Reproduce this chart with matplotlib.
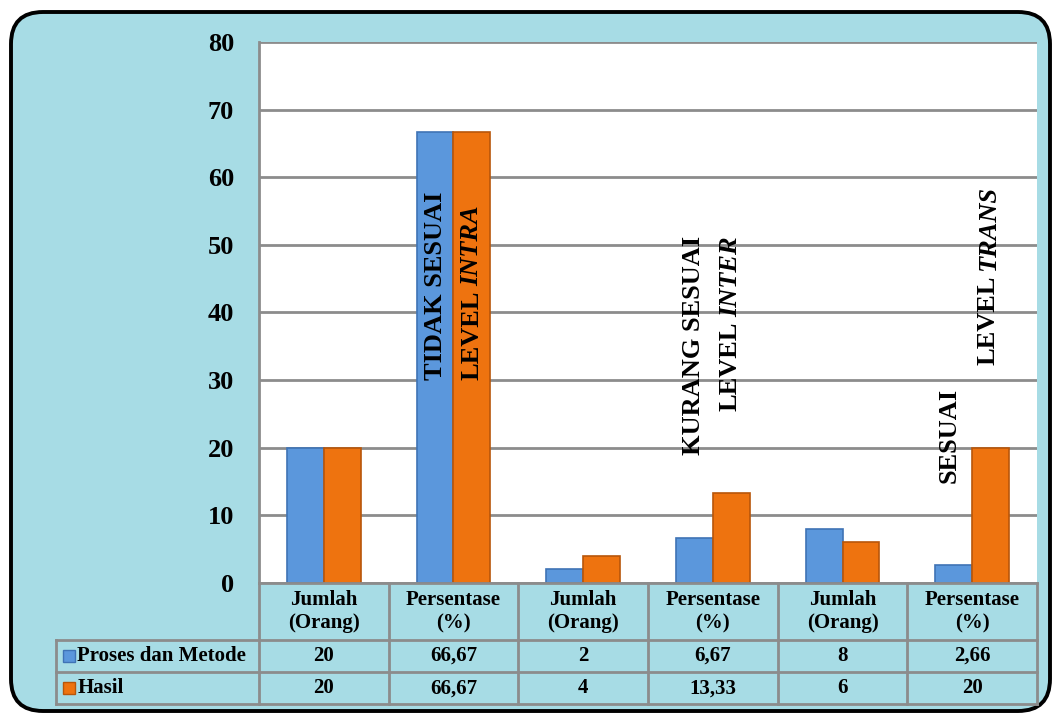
import numpy as np
import matplotlib.pyplot as plt
import matplotlib.transforms as mtransforms
from matplotlib.patches import FancyBboxPatch

# data
categories = ['Jumlah\n(Orang)', 'Persentase\n(%)', 'Jumlah\n(Orang)',
              'Persentase\n(%)', 'Jumlah\n(Orang)', 'Persentase\n(%)']
proses = [20, 66.67, 2, 6.67, 8, 2.66]
hasil = [20, 66.67, 4, 13.33, 6, 20]
proses_txt = ['20', '66,67', '2', '6,67', '8', '2,66']
hasil_txt = ['20', '66,67', '4', '13,33', '6', '20']
series_names = ['Proses dan Metode', 'Hasil']

plt.rcParams['font.family'] = ['Liberation Serif', 'DejaVu Serif']
plt.rcParams['font.weight'] = 'bold'

blue = '#5b97dc'
blue_edge = '#3f73b5'
orange = '#ee730f'
orange_edge = '#b8560a'
grid_c = '#8c8c8c'
bg = '#a7dce5'

fig = plt.figure(figsize=(10.54, 7.14), dpi=100, facecolor='white')

# rounded frame with water-like background colour
frame = FancyBboxPatch((0.11, 0.03), 10.39, 6.99,
                       boxstyle='round,pad=0,rounding_size=0.32',
                       transform=fig.dpi_scale_trans, facecolor=bg,
                       edgecolor='black', linewidth=2.8, zorder=-10)
fig.patches.append(frame)

ax = fig.add_axes([0.2457, 0.1835, 0.7382, 0.7577])
ax.set_facecolor('white')

x = np.arange(len(categories))
w = 0.285
ax.bar(x - w / 2, proses, w, color=blue, edgecolor=blue_edge, linewidth=1.2, zorder=3)
ax.bar(x + w / 2, hasil, w, color=orange, edgecolor=orange_edge, linewidth=1.2, zorder=3)

ax.set_xlim(-0.5, 5.5)
ax.set_ylim(0, 80)
ax.set_yticks(range(0, 81, 10))
ax.set_yticklabels([str(v) for v in range(0, 81, 10)], fontsize=19, fontweight='bold')
ax.tick_params(axis='y', length=0, pad=18)
ax.set_xticks([])
ax.yaxis.grid(True, color=grid_c, linewidth=2, zorder=1)
ax.set_axisbelow(True)
for s in ['top', 'right', 'bottom']:
    ax.spines[s].set_visible(False)
ax.spines['left'].set_color(grid_c)
ax.spines['left'].set_linewidth(2)

# annotations (vertical, bold serif, second word italic)
fs = 19
ak = dict(rotation=90, ha='center', fontsize=fs, fontweight='bold', zorder=5)
ax.text(0.858, 30, 'TIDAK SESUAI', va='bottom', **ak)
ax.text(2.85, 51.3, 'KURANG SESUAI', va='top', **ak)
ax.text(4.82, 14.8, 'SESUAI', va='bottom', **ak)

fig.canvas.draw()
renderer = fig.canvas.get_renderer()
gap = 5  # pixels between "LEVEL" and the italic word


def level_text(xpos, ypos, word, anchor):
    if anchor == 'bottom':
        t1 = ax.text(xpos, ypos, 'LEVEL', va='bottom', **ak)
        bb = t1.get_window_extent(renderer)
        y2 = ax.transData.inverted().transform((0, bb.y1 + gap))[1]
        ax.text(xpos, y2, word, va='bottom', style='italic', **ak)
    else:
        t2 = ax.text(xpos, ypos, word, va='top', style='italic', **ak)
        bb = t2.get_window_extent(renderer)
        y1 = ax.transData.inverted().transform((0, bb.y0 - gap))[1]
        ax.text(xpos, y1, 'LEVEL', va='top', **ak)


level_text(1.142, 30, 'INTRA', 'bottom')
level_text(3.135, 51.3, 'INTER', 'top')
level_text(5.125, 32.2, 'TRANS', 'bottom')

# data table below the plot
tr = mtransforms.blended_transform_factory(ax.transData, ax.transAxes)
y_head, y_r1, y_r2 = -0.105, -0.165, -0.224
x_left = -2.065
lk = dict(color=grid_c, linewidth=2, transform=tr, clip_on=False, zorder=4)
ax.plot([-0.5, 5.5], [0, 0], **lk)
for yy in [y_head, y_r1, y_r2]:
    ax.plot([x_left, 5.5], [yy, yy], **lk)
for k in range(7):
    ax.plot([k - 0.5, k - 0.5], [0, y_r2], **lk)
ax.plot([x_left, x_left], [y_head, y_r2], **lk)

tk = dict(transform=tr, ha='center', va='center', fontsize=15, fontweight='bold', clip_on=False)
for i, c in enumerate(categories):
    ax.text(i, y_head / 2, c, linespacing=1.25, **tk)
    ax.text(i, (y_head + y_r1) / 2, proses_txt[i], **tk)
    ax.text(i, (y_r1 + y_r2) / 2, hasil_txt[i], **tk)

for yy, name, fc, ec in [((y_head + y_r1) / 2, series_names[0], blue, blue_edge),
                         ((y_r1 + y_r2) / 2, series_names[1], orange, orange_edge)]:
    ax.plot([-1.965], [yy], marker='s', markersize=9, color=fc, markeredgecolor=ec,
            transform=tr, clip_on=False)
    ax.text(-1.9, yy, name, transform=tr, ha='left', va='center', fontsize=15,
            fontweight='bold', clip_on=False)

fig.savefig('out.png', dpi=100, facecolor='white')
